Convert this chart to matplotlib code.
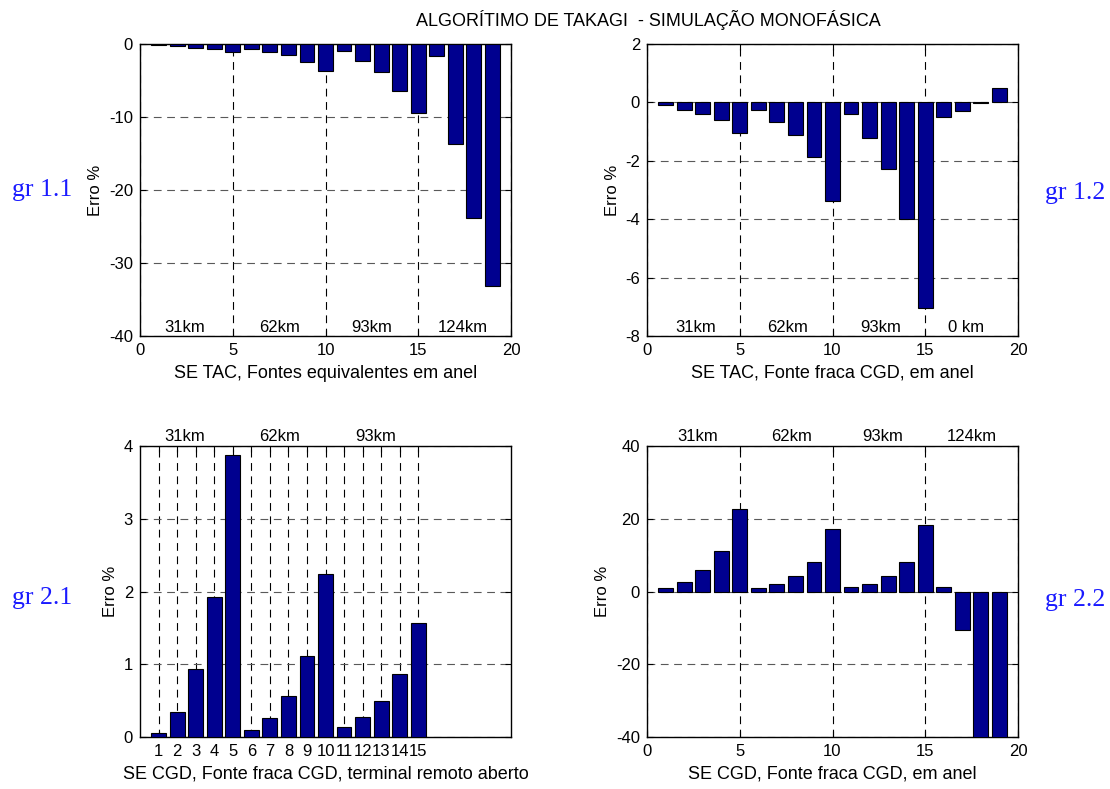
import matplotlib
matplotlib.use("Agg")
import matplotlib.pyplot as plt
import numpy as np

plt.rcParams['font.family'] = ['Liberation Sans', 'DejaVu Sans']
plt.rcParams['axes.unicode_minus'] = False

# Erro % por caso de falta
x_casos = np.arange(1, 20)
erro_11 = [-0.2, -0.25, -0.5, -0.7, -1.05, -0.7, -1.1, -1.5, -2.5, -3.7,
           -0.9, -2.3, -3.9, -6.4, -9.4, -1.7, -13.7, -23.9, -33.1]
erro_12 = [-0.1, -0.26, -0.41, -0.6, -1.06, -0.26, -0.67, -1.12, -1.88, -3.38,
           -0.41, -1.22, -2.28, -3.99, -7.03, -0.51, -0.31, -0.02, 0.49]
x_casos_21 = np.arange(1, 16)
erro_21 = [0.055, 0.34, 0.93, 1.92, 3.88, 0.1, 0.26, 0.56, 1.12, 2.24,
           0.14, 0.28, 0.5, 0.86, 1.57]
erro_22 = [1.0, 2.6, 5.8, 11.0, 22.8, 1.0, 2.1, 4.2, 8.2, 17.3,
           1.3, 2.1, 4.2, 8.2, 18.3, 1.3, -10.5, -46.0, -50.0]

dist_11 = ['31km', '62km', '93km', '124km']
dist_12 = ['31km', '62km', '93km', '0 km']
dist_21 = ['31km', '62km', '93km']
dist_22 = ['31km', '62km', '93km', '124km']

titulo = 'ALGORÍTIMO DE TAKAGI  - SIMULAÇÃO MONOFÁSICA'
xlab_11 = 'SE TAC, Fontes equivalentes em anel'
xlab_12 = 'SE TAC, Fonte fraca CGD, em anel'
xlab_21 = 'SE CGD, Fonte fraca CGD, terminal remoto aberto'
xlab_22 = 'SE CGD, Fonte fraca CGD, em anel'

W, H = 1110, 789
fig = plt.figure(figsize=(W / 100, H / 100), dpi=100)
fig.patch.set_facecolor('white')

BAR = '#00008f'
FS_TICK = 12
FS_LAB = 13
DASH = (0, (7, 5))


def box(l, t, r, b):
    return [l / W, 1 - b / H, (r - l) / W, (b - t) / H]


def style(ax, xticks, yticks):
    ax.set_xticks(xticks)
    ax.set_yticks(yticks)
    ax.tick_params(direction='in', top=True, right=True, length=4,
                   labelsize=FS_TICK, width=0.8, pad=5)
    ax.xaxis.grid(True, color='black', linestyle=DASH, linewidth=0.8)
    ax.yaxis.grid(True, color='0.35', linestyle=DASH, linewidth=0.8)
    ax.set_axisbelow(True)
    for s in ax.spines.values():
        s.set_linewidth(1.0)
    ax.set_ylabel('Erro %', fontsize=FS_TICK, labelpad=4)


def barras(ax, x, y):
    ax.bar(x, y, width=0.8, color=BAR, edgecolor='black', linewidth=0.8, zorder=3)


# gr 1.1
ax = fig.add_axes(box(140, 44, 511, 336))
barras(ax, x_casos, erro_11)
ax.set_xlim(0, 20)
ax.set_ylim(-40, 0)
style(ax, [0, 5, 10, 15, 20], [-40, -30, -20, -10, 0])
ax.set_xlabel(xlab_11, fontsize=FS_LAB, labelpad=5)
for xp, s in zip([2.4, 7.5, 12.5, 17.4], dist_11):
    ax.text(xp, -38.8, s, ha='center', va='center', fontsize=FS_TICK, zorder=4)

# gr 1.2
ax = fig.add_axes(box(647, 44, 1018, 336))
barras(ax, x_casos, erro_12)
ax.set_xlim(0, 20)
ax.set_ylim(-8, 2)
style(ax, [0, 5, 10, 15, 20], [-8, -6, -4, -2, 0, 2])
ax.set_xlabel(xlab_12, fontsize=FS_LAB, labelpad=5)
for xp, s in zip([2.6, 7.6, 12.6, 17.2], dist_12):
    ax.text(xp, -7.7, s, ha='center', va='center', fontsize=FS_TICK, zorder=4)

# gr 2.1
ax = fig.add_axes(box(140, 446, 511, 737))
barras(ax, x_casos_21, erro_21)
ax.set_xlim(0, 20)
ax.set_ylim(0, 4)
style(ax, list(x_casos_21), [0, 1, 2, 3, 4])
ax.set_xlabel(xlab_21, fontsize=FS_LAB, labelpad=5)
for xp, s in zip([2.4, 7.5, 12.7], dist_21):
    ax.text(xp, 1.031, s, transform=ax.get_xaxis_transform(),
            ha='center', va='center', fontsize=FS_TICK)

# gr 2.2
ax = fig.add_axes(box(647, 446, 1018, 737))
barras(ax, x_casos, erro_22)
ax.set_xlim(0, 20)
ax.set_ylim(-40, 40)
style(ax, [0, 5, 10, 15, 20], [-40, -20, 0, 20, 40])
ax.set_xlabel(xlab_22, fontsize=FS_LAB, labelpad=5)
for xp, s in zip([2.75, 7.8, 12.7, 17.5], dist_22):
    ax.text(xp, 1.031, s, transform=ax.get_xaxis_transform(),
            ha='center', va='center', fontsize=FS_TICK)

fig.text(648 / W, 1 - 20 / H, titulo, ha='center', va='center', fontsize=FS_LAB)

serif = dict(family=['Liberation Serif', 'DejaVu Serif'], fontsize=18.5,
             color='#1a1aff', ha='center', va='center')
fig.text(42 / W, 1 - 190 / H, 'gr 1.1', **serif)
fig.text(1075 / W, 1 - 193 / H, 'gr 1.2', **serif)
fig.text(42 / W, 1 - 598 / H, 'gr 2.1', **serif)
fig.text(1075 / W, 1 - 600 / H, 'gr 2.2', **serif)

fig.savefig('out.png', dpi=100, facecolor='white')
